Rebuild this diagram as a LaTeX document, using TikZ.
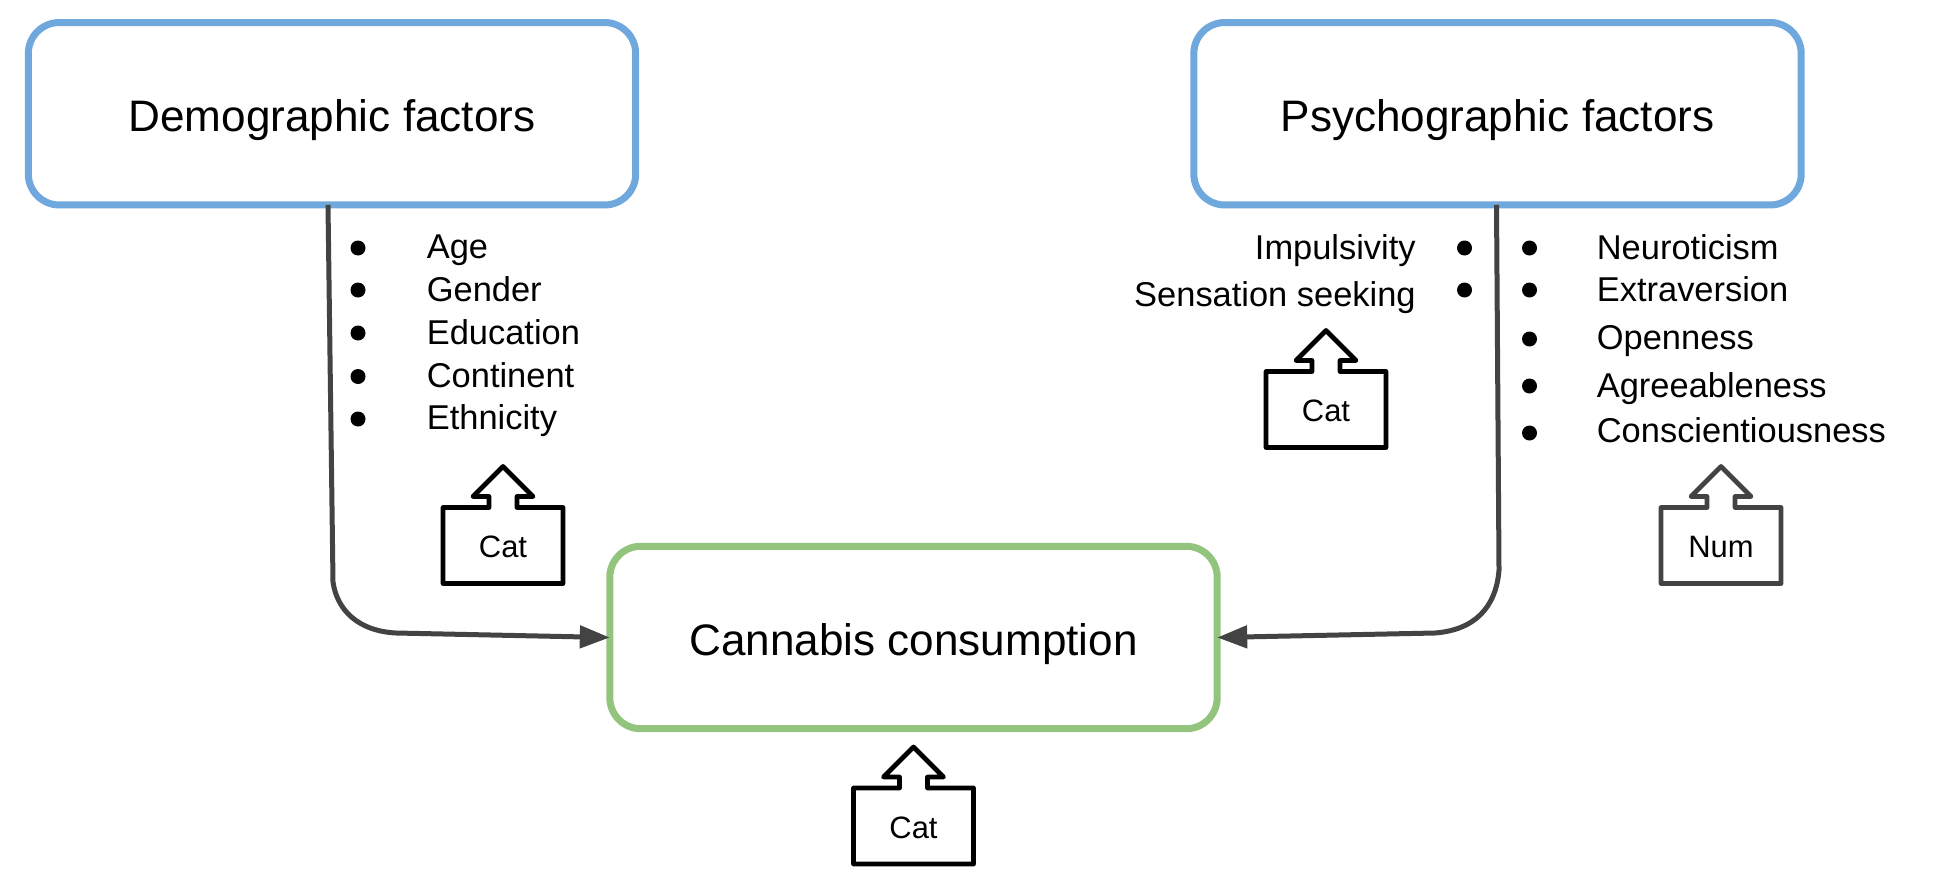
\documentclass[tikz,border=0pt]{standalone}
\usepackage{fontspec}
\usepackage{xcolor}
\setmainfont{Liberation Sans}
\definecolor{boxblue}{HTML}{6FA8DC}
\definecolor{boxgreen}{HTML}{93C47D}
\definecolor{linedark}{HTML}{434343}
\usetikzlibrary{arrows.meta}
\tikzset{
    factorbox/.style={draw, rounded corners=0.62cm, line width=0.14cm, inner sep=0pt, outer sep=0pt,
        minimum width=12.15cm, minimum height=3.65cm, text height=0.83cm, text depth=0.1cm,
        font=\fontsize{25.1}{30}\selectfont},
    itemtext/.style={inner sep=0pt, font=\fontsize{19.6}{24}\selectfont},
    tagtext/.style={inner sep=0pt, anchor=base, font=\fontsize{17.6}{21}\selectfont},
    tagline/.style={line width=0.095cm, line join=round},
    link/.style={draw=linedark, line width=0.1cm, -{Triangle[length=0.6cm,width=0.44cm]}}
}
\begin{document}
\begin{tikzpicture}[x=0.02cm,y=-0.02cm]
    \useasboundingbox (0,0) rectangle (1942,882);
    \node[factorbox, draw=boxblue] (demo) at (332,113.75) {Demographic factors};
    \node[factorbox, draw=boxblue] (psycho) at (1497.5,113.75) {Psychographic factors};
    \node[factorbox, draw=boxgreen] (cannabis) at (913.5,637.5) {Cannabis consumption};
    \coordinate (D1) at (333,582);
    \coordinate (D2) at (396,633);
    \coordinate (P1) at (1499,570);
    \coordinate (P2) at (1435,633);
    \draw[link] ([xshift=-0.08cm]demo.south) -- (D1) .. controls (337,610) and (358,631) .. (D2) -- (cannabis.west);
    \draw[link] ([xshift=-0.02cm]psycho.south) -- (P1) .. controls (1496,608) and (1474,630) .. (P2) -- (cannabis.east);
    % lists
    \foreach \name/\word/\ybase/\ydot in {age/Age/258/248, gender/Gender/301/290, education/Education/344/333, continent/Continent/387/376.5, ethnicity/Ethnicity/429/419}{
        \fill[black] (358,\ydot) circle (7.5);
        \node[itemtext, anchor=base west] (\name) at (426.5,\ybase) {\word};
    }
    \foreach \name/\word/\ybase/\ydot in {neuro/Neuroticism/259/248, extra/Extraversion/301/290, open/Openness/349/339, agree/Agreeableness/397/386, consc/Conscientiousness/442/433}{
        \fill[black] (1529.5,\ydot) circle (7.5);
        \node[itemtext, anchor=base west] (\name) at (1596.5,\ybase) {\word};
    }
    \foreach \name/\word/\ybase/\ydot in {impuls/Impulsivity/259/248, sensation/Sensation seeking/306/290}{
        \fill[black] (1464.5,\ydot) circle (7.5);
        \node[itemtext, anchor=base east] (\name) at (1416,\ybase) {\word};
    }
    % type tags
    \foreach \name/\cx/\cy/\word/\col in {tagdemo/503/507.5/Cat/black, tagimp/1326/371.5/Cat/black, tagnum/1721/507.5/Num/linedark, tagcan/913.5/788/Cat/black}{
        \begin{scope}[shift={(\cx,\cy)}]
            \draw[tagline, draw=\col] (-60,0) -- (-14,0) -- (-14,-11) -- (-30,-11) -- (0,-41) -- (30,-11) -- (14,-11) -- (14,0) -- (60,0) -- (60,76) -- (-60,76) -- cycle;
            \node[tagtext] (\name) at (0,50) {\word};
        \end{scope}
    }
\end{tikzpicture}
\end{document}
